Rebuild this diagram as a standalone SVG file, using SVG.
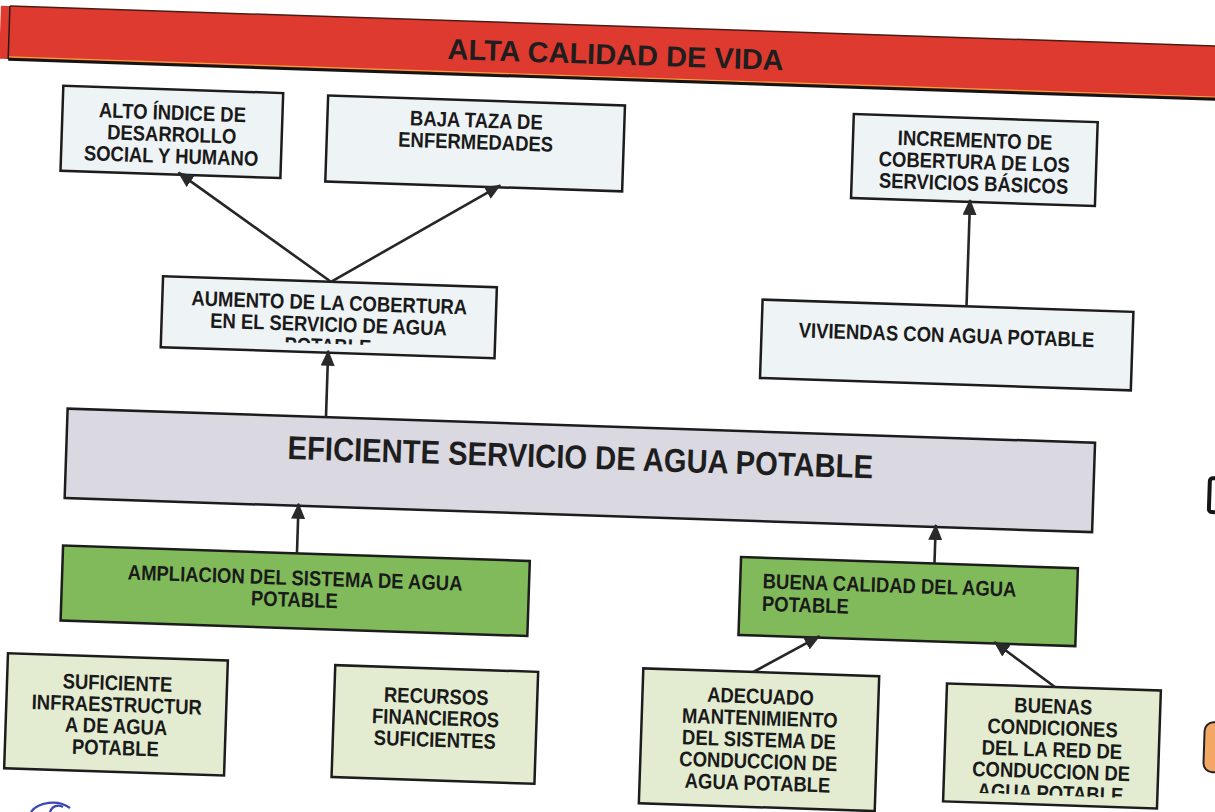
<svg xmlns="http://www.w3.org/2000/svg" width="1215" height="812" viewBox="0 0 1215 812">
<style>
.box{stroke:#1c1c1c;stroke-width:2.5}
.w{fill:#eef3f5}
.lav{fill:#dad8e1}
.g{fill:#80ba5a}
.lg{fill:#e3ecd1}
.t{font-family:'Liberation Sans',Arial,sans-serif;font-weight:bold;font-size:21px;fill:#1a1a1a;text-anchor:middle}
.ts{text-anchor:start}
.big{font-family:'Liberation Sans',Arial,sans-serif;font-weight:bold;fill:#1e1e1e;text-anchor:middle}
.con{stroke:#262626;stroke-width:2.6;fill:none;marker-end:url(#ah)}
</style>
<defs>
<marker id="ah" viewBox="0 0 16 14" refX="15" refY="7" markerWidth="16" markerHeight="14" markerUnits="userSpaceOnUse" orient="auto">
<path d="M0,0 L16,7 L0,14 z" fill="#2a2a2a"/>
</marker>
<clipPath id="clipAum" clipPathUnits="userSpaceOnUse"><rect x="159" y="291" width="334" height="62"/></clipPath>
<clipPath id="clipBuenas" clipPathUnits="userSpaceOnUse"><rect x="956" y="672" width="214" height="108.5"/></clipPath>
</defs>
<rect x="0" y="0" width="1215" height="812" fill="#ffffff"/>
<g id="page" transform="rotate(1.9 607 406)">
  <g id="banner">
    <rect x="-12" y="26" width="1260" height="53" fill="#de3a30"/>
    <line x1="-3" y1="26" x2="1248" y2="26" stroke="#4a1c14" stroke-width="1.5"/>
    <line x1="-3" y1="77" x2="1248" y2="77" stroke="#f2a23a" stroke-width="1.2"/>
    <line x1="-3" y1="79.3" x2="1248" y2="79.3" stroke="#141414" stroke-width="3"/>
    <line x1="-3" y1="26" x2="-3" y2="79" stroke="#2a1a14" stroke-width="1.5"/>
    <text class="big" x="604" y="64.5" font-size="29">ALTA CALIDAD DE VIDA</text>
  </g>

  <g id="n-alto">
    <rect class="box w" x="53" y="104" width="220" height="85"/>
    <g transform="matrix(0.88 0 0 1 163 0)">
      <text class="t" x="0" y="134.4">ALTO ÍNDICE DE</text>
      <text class="t" x="0" y="156.1">DESARROLLO</text>
      <text class="t" x="0" y="177.7">SOCIAL Y HUMANO</text>
    </g>
  </g>

  <g id="n-baja">
    <rect class="box w" x="318" y="105" width="297" height="86"/>
    <g transform="matrix(0.88 0 0 1 467 0)">
      <text class="t" x="0" y="132">BAJA TAZA DE</text>
      <text class="t" x="0" y="153.7">ENFERMEDADES</text>
    </g>
  </g>

  <g id="n-incremento">
    <rect class="box w" x="844" y="106" width="244" height="84"/>
    <g transform="matrix(0.88 0 0 1 966 0)">
      <text class="t" x="0" y="135.4">INCREMENTO DE</text>
      <text class="t" x="0" y="157.1">COBERTURA DE LOS</text>
      <text class="t" x="0" y="178.7">SERVICIOS BÁSICOS</text>
    </g>
  </g>

  <g id="n-aumento">
    <rect class="box w" x="159" y="291" width="334" height="71"/>
    <g clip-path="url(#clipAum)">
      <g transform="matrix(0.88 0 0 1 326 0)">
        <text class="t" x="0" y="319.2">AUMENTO DE LA COBERTURA</text>
        <text class="t" x="0" y="340.9">EN EL SERVICIO DE AGUA</text>
        <text class="t" x="0" y="362.5">POTABLE</text>
      </g>
    </g>
  </g>

  <g id="n-viviendas">
    <rect class="box w" x="759" y="294.5" width="371" height="78.5"/>
    <g transform="matrix(0.88 0 0 1 944 0)">
      <text class="t" x="0" y="331">VIVIENDAS CON AGUA POTABLE</text>
    </g>
  </g>

  <g id="n-eficiente">
    <rect class="box lav" x="68" y="426.5" width="1028" height="89.5"/>
    <g transform="matrix(0.885 0 0 1 582 0)">
      <text class="big" x="0" y="469.5" font-size="33">EFICIENTE SERVICIO DE AGUA POTABLE</text>
    </g>
  </g>

  <g id="n-ampliacion">
    <rect class="box g" x="68" y="563.5" width="467" height="75"/>
    <g transform="matrix(0.88 0 0 1 301 0)">
      <text class="t" x="0" y="595.3">AMPLIACION DEL SISTEMA DE AGUA</text>
      <text class="t" x="0" y="617">POTABLE</text>
    </g>
  </g>

  <g id="n-buena">
    <rect class="box g" x="746" y="552.5" width="337" height="78"/>
    <g transform="matrix(0.88 0 0 1 768.5 0)">
      <text class="t ts" x="0" y="583">BUENA CALIDAD DEL AGUA</text>
      <text class="t ts" x="0" y="605.5">POTABLE</text>
    </g>
  </g>

  <g id="n-suficiente">
    <rect class="box lg" x="16.5" y="673" width="220" height="115"/>
    <g transform="matrix(0.88 0 0 1 127 0)">
      <text class="t" x="0" y="706.2">SUFICIENTE</text>
      <text class="t" x="0" y="727.9">INFRAESTRUCTUR</text>
      <text class="t" x="0" y="749.5">A DE AGUA</text>
      <text class="t" x="0" y="771.2">POTABLE</text>
    </g>
  </g>

  <g id="n-recursos">
    <rect class="box lg" x="344" y="674" width="203" height="112"/>
    <g transform="matrix(0.88 0 0 1 446 0)">
      <text class="t" x="0" y="709">RECURSOS</text>
      <text class="t" x="0" y="730.7">FINANCIEROS</text>
      <text class="t" x="0" y="752.4">SUFICIENTES</text>
    </g>
  </g>

  <g id="n-adecuado">
    <rect class="box lg" x="652" y="667" width="236" height="135"/>
    <g transform="matrix(0.88 0 0 1 770 0)">
      <text class="t" x="0" y="698.3">ADECUADO</text>
      <text class="t" x="0" y="720">MANTENIMIENTO</text>
      <text class="t" x="0" y="741.7">DEL SISTEMA DE</text>
      <text class="t" x="0" y="763.3">CONDUCCION DE</text>
      <text class="t" x="0" y="785">AGUA POTABLE</text>
    </g>
  </g>

  <g id="n-buenas">
    <rect class="box lg" x="956" y="672" width="214" height="118"/>
    <g clip-path="url(#clipBuenas)">
      <g transform="matrix(0.88 0 0 1 1063 0)">
        <text class="t" x="0" y="698.5">BUENAS</text>
        <text class="t" x="0" y="720.2">CONDICIONES</text>
        <text class="t" x="0" y="741.9">DEL LA RED DE</text>
        <text class="t" x="0" y="763.6">CONDUCCION DE</text>
        <text class="t" x="0" y="785.3">AGUA POTABLE</text>
      </g>
    </g>
  </g>

  <g id="connectors">
    <path class="con" d="M327,291 L171,187"/>
    <path class="con" d="M327,291 L493,189"/>
    <path class="con" d="M963,294.5 L963,188"/>
    <path class="con" d="M326.5,426.5 L326.5,360"/>
    <path class="con" d="M302,563.5 L302,514"/>
    <path class="con" d="M939.5,552.5 L939.5,514"/>
    <path class="con" d="M762,667 L827,629"/>
    <path class="con" d="M1064,672 L1002,629"/>
  </g>

  <g id="edge-fragments">
    <rect x="1212" y="458" width="14" height="34" rx="3" fill="#ffffff" stroke="#151515" stroke-width="4"/>
    <rect x="1215" y="702" width="40" height="50" rx="9" fill="#f2a765" stroke="#222222" stroke-width="2"/>
  </g>
</g>
<g id="pen-mark" fill="none" stroke="#3a45b8" stroke-width="2.2">
  <path d="M31,812 C38,802 58,799 70,808"/>
  <path d="M50,812 C52,806 58,804 63,807"/>
</g>
</svg>
